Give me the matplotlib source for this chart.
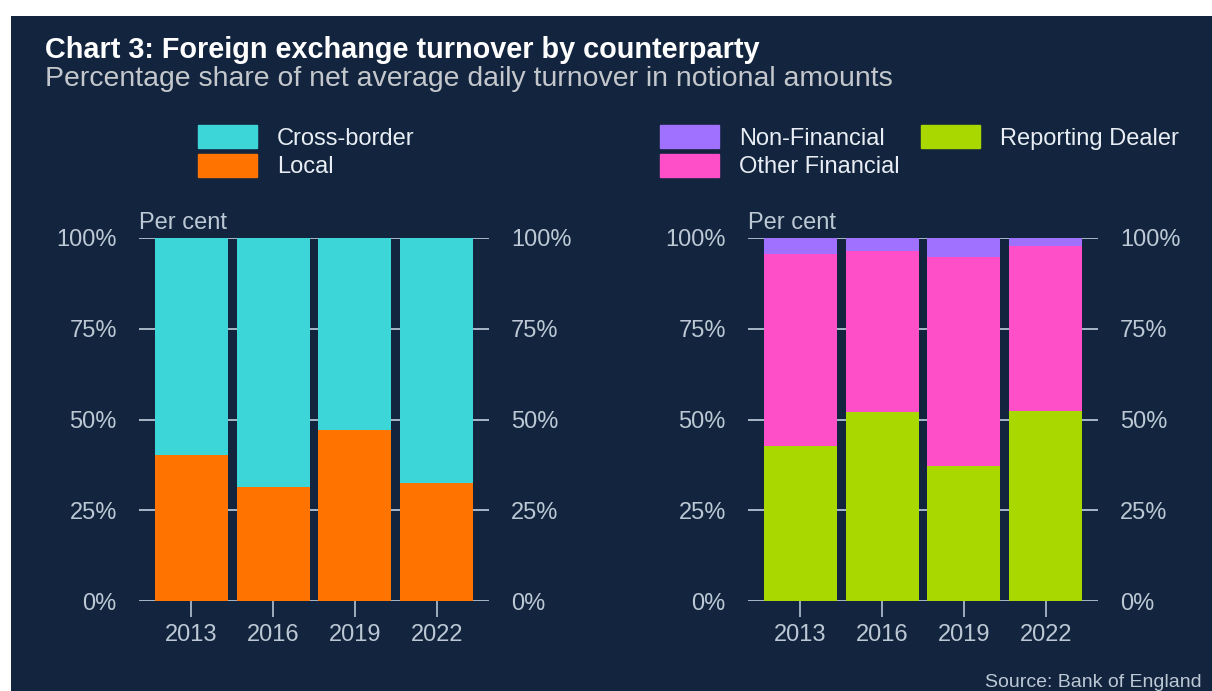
import matplotlib
matplotlib.use("Agg")
import matplotlib.pyplot as plt
from matplotlib.patches import Patch, Rectangle

# data (per cent shares)
years = ["2013", "2016", "2019", "2022"]
local = [40.2, 31.3, 47.1, 32.4]
cross_border = [59.8, 68.7, 52.9, 67.6]
reporting_dealer = [42.8, 52.1, 37.1, 52.4]
other_financial = [52.7, 44.4, 57.7, 45.4]
non_financial = [4.5, 3.5, 5.2, 2.2]
y_ticks = [0, 25, 50, 75, 100]
y_labels = ["0%", "25%", "50%", "75%", "100%"]

NAVY = "#13243e"
GRID = "#a9b8c8"
TICK = "#bcc8d4"
CYAN = "#3dd6d8"
ORANGE = "#ff7300"
PURPLE = "#a070ff"
PINK = "#ff4fc8"
GREEN = "#a8d800"

plt.rcParams["font.family"] = ["Liberation Sans", "DejaVu Sans"]

W, H = 1212, 691
fig = plt.figure(figsize=(W / 100, H / 100), dpi=100, facecolor="white")
fig.patches.append(Rectangle((11 / W, 0), 1, 1 - 16 / H, transform=fig.transFigure,
                             facecolor=NAVY, edgecolor="none", zorder=-10))


def px(x, y):
    return x / W, 1 - y / H


def style_axes(ax):
    ax.set_facecolor(NAVY)
    for s in ax.spines.values():
        s.set_visible(False)
    ax.set_ylim(0, 100)
    ax.set_xlim(-0.64, 3.64)
    ax.set_yticks(y_ticks)
    ax.set_yticklabels(y_labels)
    ax.set_xticks(range(len(years)))
    ax.set_xticklabels(years)
    ax.set_axisbelow(True)
    ax.grid(axis="y", color=GRID, linewidth=1.4)
    ax.tick_params(axis="y", length=0, labelsize=17, labelcolor=TICK,
                   labelleft=True, labelright=True, pad=16)
    ax.tick_params(axis="x", length=11.5, width=1.3, color=GRID, labelsize=17,
                   labelcolor=TICK, pad=5)
    ax.annotate("Per cent", xy=(0, 1), xycoords="axes fraction", xytext=(0, 6.5),
                textcoords="offset points", ha="left", va="baseline",
                fontsize=17, color=TICK)


x = range(len(years))
bw = 0.89

ax1 = fig.add_axes([139 / W, 90 / H, 350 / W, 363 / H])
style_axes(ax1)
ax1.bar(x, local, bw, color=ORANGE)
ax1.bar(x, cross_border, bw, bottom=local, color=CYAN)

ax2 = fig.add_axes([748 / W, 90 / H, 350 / W, 363 / H])
style_axes(ax2)
base2 = [a + b for a, b in zip(reporting_dealer, other_financial)]
ax2.bar(x, reporting_dealer, bw, color=GREEN)
ax2.bar(x, other_financial, bw, bottom=reporting_dealer, color=PINK)
ax2.bar(x, non_financial, bw, bottom=base2, color=PURPLE)

leg_kw = dict(loc="upper left", frameon=False, fontsize=17, labelcolor="#e8eef4",
              handlelength=2.5, handleheight=1.15, handletextpad=0.85,
              labelspacing=0.17, borderpad=0, borderaxespad=0, columnspacing=0.9)
fig.legend(handles=[Patch(color=CYAN, label="Cross-border"),
                    Patch(color=ORANGE, label="Local")],
           bbox_to_anchor=px(198, 125), ncol=1, **leg_kw)
fig.legend(handles=[Patch(color=PURPLE, label="Non-Financial"),
                    Patch(color=PINK, label="Other Financial"),
                    Patch(color=GREEN, label="Reporting Dealer")],
           bbox_to_anchor=px(660, 125), ncol=2, **leg_kw)

fig.text(*px(45, 58), "Chart 3: Foreign exchange turnover by counterparty",
         fontsize=20.8, fontweight="bold", color="white", ha="left", va="baseline")
fig.text(*px(45, 86), "Percentage share of net average daily turnover in notional amounts",
         fontsize=20.4, color="#c4c8cc", ha="left", va="baseline")
fig.text(*px(1202, 687), "Source: Bank of England", fontsize=14, color=TICK,
         ha="right", va="baseline")

fig.savefig("out.png", dpi=100, facecolor="white")
